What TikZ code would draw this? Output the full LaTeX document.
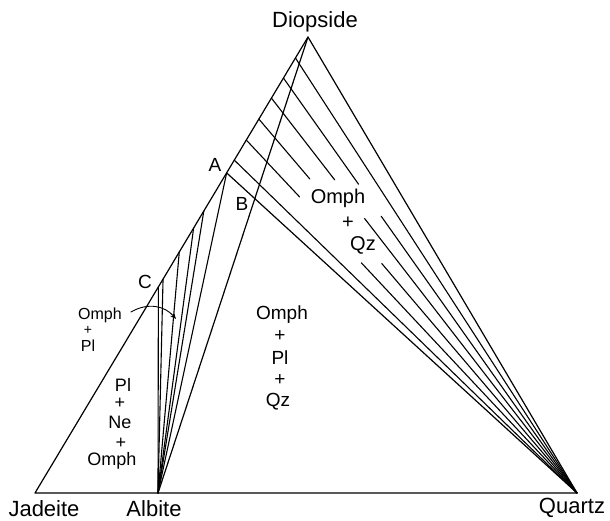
\documentclass[tikz,border=0pt]{standalone}
\usepackage{fontspec}
\setmainfont{Liberation Sans}
\usetikzlibrary{calc,arrows.meta}
\begin{document}
\begin{tikzpicture}[x=1pt,y=-1pt, line width=1.2pt, line join=round, line cap=round,
  vlabel/.style={inner sep=0pt, font=\fontsize{22}{22}\selectfont},
  plabel/.style={inner sep=0pt, font=\fontsize{19}{19}\selectfont},
  flabel/.style={inner sep=0pt, font=\fontsize{19}{19}\selectfont},
  qlabel/.style={inner sep=0pt, font=\fontsize{20}{20}\selectfont},
  slabel/.style={inner sep=0pt, font=\fontsize{16}{16}\selectfont},
  llabel/.style={inner sep=0pt, font=\fontsize{18}{18}\selectfont},
  tie/.style={line width=1.1pt}]
\useasboundingbox (0,0) rectangle (610,521);
\coordinate (D) at (308,37);
\coordinate (J) at (35,493);
\coordinate (Ab) at (158,493);
\coordinate (Q) at (577,493);
\coordinate (A) at ($(D)!0.298!(J)$);
\coordinate (C) at ($(D)!0.548!(J)$);
% main triangle
\draw (J) -- (Q) -- (D) -- cycle;
\draw (D) -- (Ab);
\draw (A) -- (Q);
% fan from Albite
\foreach \t [count=\i] in {0.298,0.3816,0.419,0.4715,0.531,0.548}{
  \coordinate (f\i) at ($(D)!\t!(J)$);
  \draw[tie] (Ab) -- (f\i);
}
% tie lines to Quartz (continuous)
\foreach \t [count=\i] in {0.046,0.270}{
  \coordinate (c\i) at ($(D)!\t!(J)$);
  \draw[tie] (c\i) -- (Q);
}
% tie lines to Quartz, broken round the label
\foreach \t/\a/\b [count=\i] in {0.090/0.256/0.333, 0.134/0.207/0.305, 0.180/0.160/0.386, 0.226/0.161/0.348}{
  \coordinate (g\i) at ($(D)!\t!(J)$);
  \coordinate (ga\i) at ($(g\i)!\a!(Q)$);
  \coordinate (gb\i) at ($(g\i)!\b!(Q)$);
  \draw[tie] (g\i) -- (ga\i);
  \draw[tie] (gb\i) -- (Q);
}
% vertex labels
\node[vlabel] (nDi) at (315,22) {Diopside};
\node[vlabel] (nJd) at (44,509) {Jadeite};
\node[vlabel] (nAb) at (154,509) {Albite};
\node[vlabel] (nQz) at (572,508) {Quartz};
% point labels
\node[plabel] (nA) at (215,165) {A};
\node[plabel] (nB) at (242,204) {B};
\node[plabel] (nC) at (145,281.5) {C};
% Omph + Qz
\node[qlabel] (oq1) at (338,198) {Omph};
\node[qlabel] (oq2) at (348,223) {+};
\node[qlabel] (oq3) at (363,245) {Qz};
% Omph + Pl + Qz
\node[flabel] (opq1) at (282,315) {Omph};
\node[flabel] (opq2) at (280,336) {+};
\node[flabel] (opq3) at (280,358) {Pl};
\node[flabel] (opq4) at (280,380) {+};
\node[flabel] (opq5) at (278,402) {Qz};
% Omph + Pl (left, with arrow)
\node[slabel] (op1) at (100,315) {Omph};
\node[slabel,font=\fontsize{14}{14}\selectfont] (op2) at (88,330) {+};
\node[slabel] (op3) at (88,346) {Pl};
\coordinate (arrS) at (131,312);
\coordinate (arrE) at (176,319);
\draw[line width=0.9pt, -{Stealth[length=6pt,width=5pt]}] (arrS) .. controls (148,302) and (165,306) .. (arrE);
% Pl + Ne + Omph
\node[llabel] (pno1) at (123,385) {Pl};
\node[llabel] (pno2) at (120,403) {+};
\node[llabel] (pno3) at (120,422) {Ne};
\node[llabel] (pno4) at (121,443) {+};
\node[llabel] (pno5) at (112,461) {Omph};
\end{tikzpicture}
\end{document}
